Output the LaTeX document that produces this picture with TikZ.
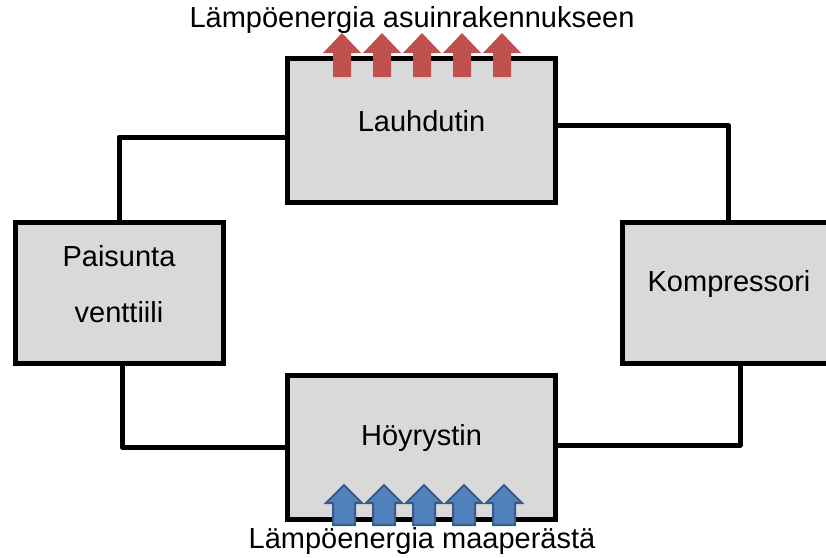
\documentclass[tikz,border=0pt]{standalone}
\usepackage{fontspec}
\setmainfont{Liberation Sans}
\usetikzlibrary{positioning}
\definecolor{boxgray}{RGB}{217,217,217}
\definecolor{heatred}{RGB}{192,80,77}
\definecolor{groundblue}{RGB}{79,129,189}
\definecolor{groundedge}{RGB}{56,93,138}

\begin{document}
\begin{tikzpicture}[x=1pt, y=-1pt,
    unitbox/.style={draw, line width=5pt, fill=boxgray, inner sep=0pt},
    boxlabel/.style={font=\fontsize{29}{34}\selectfont, yshift=9pt},
    pipe/.style={line width=5pt, line join=round}]
    \useasboundingbox (0,0) rectangle (826,557);

    % --- Units of the cycle ---
    \node[unitbox, minimum width=268pt, minimum height=144pt,
        label={[boxlabel]center:Lauhdutin}] (lauh) at (421.5,130) {};
    \node[unitbox, minimum width=268pt, minimum height=144pt,
        label={[boxlabel]center:Höyrystin}] (hoyr) at (421.5,447) {};
    \node[unitbox, minimum width=208pt, minimum height=141pt,
        label={[boxlabel, align=center, yshift=-0.5pt]center:Paisunta\\[22pt]venttiili}] (pais) at (119,292.5) {};
    \node[unitbox, minimum width=208pt, minimum height=141pt,
        label={[boxlabel, xshift=3pt]center:Kompressori}] (komp) at (726,292.5) {};

    % --- Pipes ---
    \draw[pipe] ([yshift=-7pt]lauh.west) -| (pais.north);
    \draw[pipe] ([yshift=5pt]lauh.east) -| ([xshift=2pt]komp.north);
    \draw[pipe] ([xshift=3pt]pais.south) |- (hoyr.west);
    \draw[pipe] ([xshift=14pt]komp.south) |- ([yshift=2pt]hoyr.east);

    % Heat out (red arrows)
    \foreach \i in {0,...,4}{
        \fill[heatred] (342+40*\i,33) -- ++(19,20) -- ++(-10,0) -- ++(0,24)
            -- ++(-18,0) -- ++(0,-24) -- ++(-10,0) -- cycle;
    }
    % Heat in (blue arrows)
    \foreach \i in {0,...,4}{
        \draw[groundedge, fill=groundblue, line width=2pt, line join=miter]
            (344+40*\i,485) -- ++(18,18) -- ++(-7,0) -- ++(0,22)
            -- ++(-22,0) -- ++(0,-22) -- ++(-7,0) -- cycle;
    }

    \node[font=\fontsize{29}{34}\selectfont] (heatout) at (412,20) {Lämpöenergia asuinrakennukseen};
    \node[font=\fontsize{29}{34}\selectfont] (heatin) at (422,541) {Lämpöenergia maaperästä};
\end{tikzpicture}
\end{document}
